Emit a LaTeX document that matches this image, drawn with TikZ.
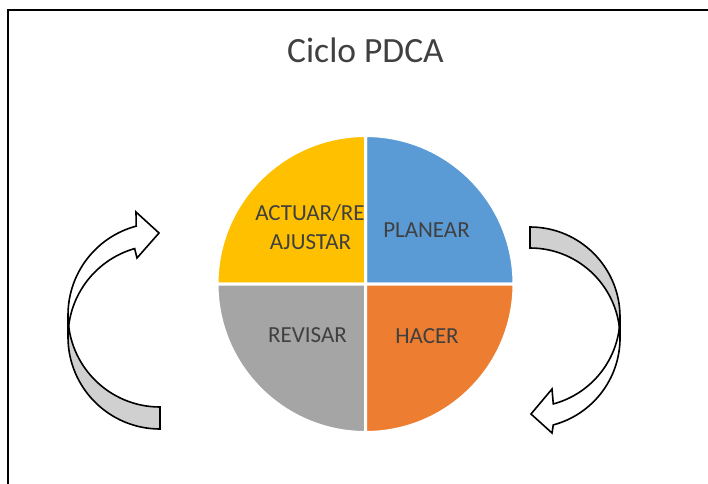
\documentclass[tikz,border=0pt]{standalone}
\usepackage{fontspec}
\setmainfont{Carlito}
\usepackage{tikz}
\definecolor{planblue}{HTML}{5B9BD5}
\definecolor{doorange}{HTML}{ED7D31}
\definecolor{checkgray}{HTML}{A5A5A5}
\definecolor{actgold}{HTML}{FFC000}
\definecolor{labelgray}{HTML}{404040}
\definecolor{backgray}{HTML}{D0D0D0}
\newcommand{\pdcaradius}{148.5}
\tikzstyle{quadrant}=[draw=white, line width=3pt]
\tikzstyle{quadlabel}=[text=labelgray, anchor=base, font=\fontsize{23}{28}\selectfont]
\tikzstyle{cyclearrow}=[draw=black, line width=1.6pt, line join=miter]
\tikzstyle{pdcachart}=[x=1pt, y=1pt,
                       % No padding for labels.
                       every node/.style={inner sep=0, outer sep=0}]

\begin{document}
\begin{tikzpicture}[pdcachart]
        \useasboundingbox (0,0) rectangle (708,483);
        % chart frame, cut at the right and bottom
        \draw[line width=2pt] (8,-2) -- (8,473) -- (712,473);
        \node[text=labelgray, anchor=base, font=\fontsize{35.5}{42}\selectfont] (title) at (365.5,420) {Ciclo PDCA};
        % the four quarters
        \coordinate (centre) at (365.5,199);
        \foreach \start/\quadcol in {0/planblue, 90/actgold, 180/checkgray, 270/doorange}
            \filldraw[quadrant, fill=\quadcol] (centre) -- ++(\start:\pdcaradius)
                arc[start angle=\start, end angle=\start+90, radius=\pdcaradius] -- cycle;
        \node[quadlabel] (plan) at (426.5,246) {PLANEAR};
        \node[quadlabel] (act1) at (310,263) {ACTUAR/RE};
        \node[quadlabel] (act2) at (310.5,234) {AJUSTAR};
        \node[quadlabel] (check) at (307.5,141) {REVISAR};
        \node[quadlabel] (do) at (427,140) {HACER};
        % left arrow: back band, then front band with head
        \filldraw[cyclearrow, fill=backgray] (160,54) arc[start angle=270, end angle=180, radius=92]
            -- (68,168) arc[start angle=180, end angle=270, radius=92] -- cycle;
        \filldraw[cyclearrow, fill=white] (68,146) arc[start angle=180, end angle=106, radius=92]
            -- (137,225) -- (159,250) -- (136,271) -- (136.2,256.9)
            arc[start angle=105, end angle=180, radius=92] -- cycle;
        % right arrow
        \filldraw[cyclearrow, fill=backgray] (530,256) arc[start angle=90, end angle=0, radius=90]
            -- (620,145) arc[start angle=0, end angle=90, radius=90] -- cycle;
        \filldraw[cyclearrow, fill=white] (620,166) arc[start angle=0, end angle=-75, radius=90]
            -- (552,94) -- (531,69) -- (552,50) -- (553.3,58.1)
            arc[start angle=-75, end angle=0, radius=90] -- cycle;
    \end{tikzpicture}
\end{document}
